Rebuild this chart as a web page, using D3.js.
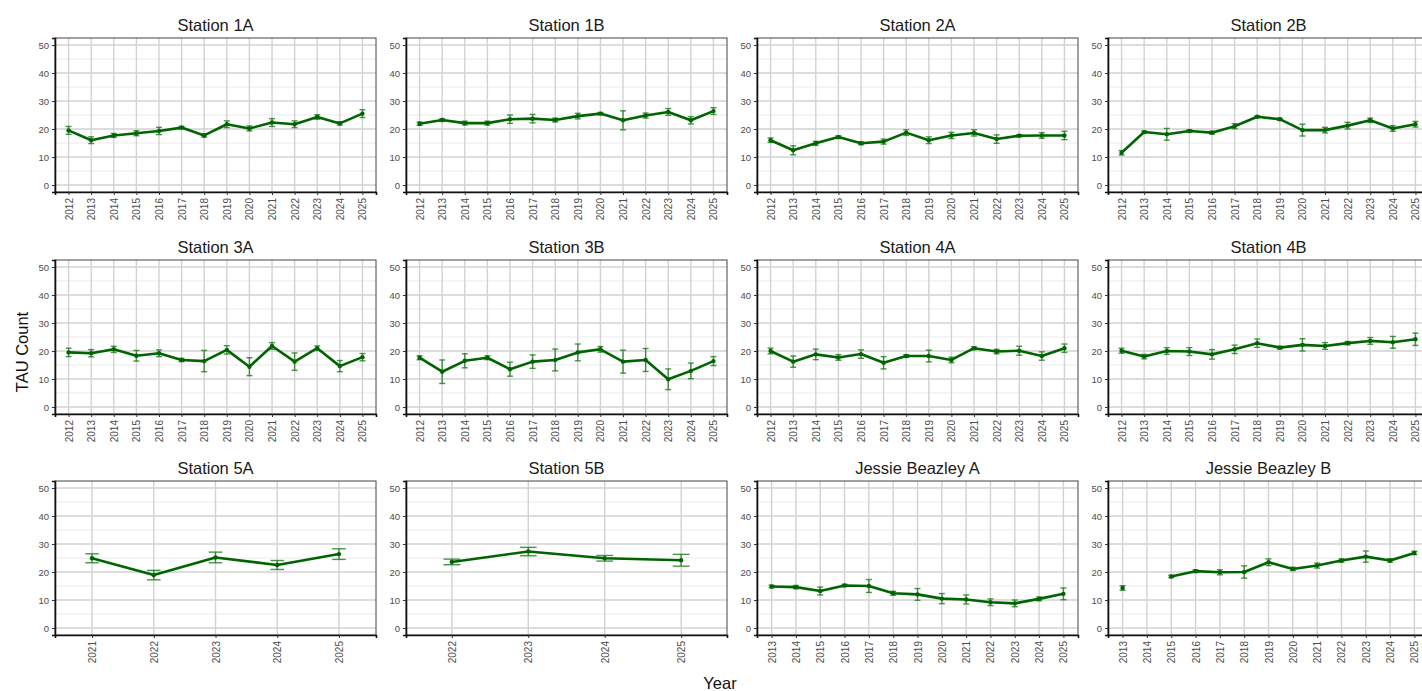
<!DOCTYPE html>
<html>
<head>
<meta charset="utf-8">
<script src="https://cdn.jsdelivr.net/npm/d3@7"></script>
<style>
	body { margin: 0; background: #fff; }
	svg text { font-family: "Liberation Sans", Arial, sans-serif; }
</style>
</head>
<body>
<svg id="chart" width="1422" height="691"></svg>
<script>

// years per station group
const yearsAll = [2012, 2013, 2014, 2015, 2016, 2017, 2018, 2019, 2020, 2021, 2022, 2023, 2024, 2025];
const years5A = [2021, 2022, 2023, 2024, 2025];
const years5B = [2022, 2023, 2024, 2025];
const yearsJB = [2013, 2014, 2015, 2016, 2017, 2018, 2019, 2020, 2021, 2022, 2023, 2024, 2025];

// mean TAU count and standard error
const mean1A = [19.5, 16.0, 17.7, 18.5, 19.3, 20.5, 17.7, 21.7, 20.2, 22.3, 21.7, 24.3, 22.0, 25.5];
const se1A   = [1.4, 1.2, 0.7, 0.9, 1.3, 0.5, 0.6, 1.2, 0.9, 1.4, 1.2, 0.8, 0.6, 1.4];
const mean1B = [21.9, 23.2, 22.1, 22.1, 23.5, 23.7, 23.2, 24.6, 25.5, 23.1, 24.8, 26.1, 23.1, 26.4];
const se1B   = [0.6, 0.5, 0.7, 0.7, 1.5, 1.5, 0.7, 1.0, 0.4, 3.4, 0.9, 1.2, 1.3, 1.2];
const mean2A = [16.0, 12.4, 14.9, 17.1, 14.9, 15.5, 18.7, 16.0, 17.7, 18.6, 16.4, 17.6, 17.7, 17.7];
const se2A   = [0.8, 1.6, 0.7, 0.5, 0.5, 0.9, 1.0, 1.2, 1.1, 1.1, 1.5, 0.4, 1.0, 1.5];
const mean2B = [11.5, 18.9, 18.1, 19.3, 18.7, 21.0, 24.4, 23.5, 19.6, 19.6, 21.2, 23.1, 20.2, 21.7];
const se2B   = [0.8, 0.4, 2.1, 0.4, 0.5, 0.9, 0.3, 0.4, 2.1, 1.0, 1.2, 0.8, 1.0, 1.0];
const mean3A = [19.5, 19.2, 20.6, 18.3, 19.2, 16.8, 16.4, 20.4, 14.4, 21.8, 16.2, 21.0, 14.6, 17.8];
const se3A   = [1.5, 1.3, 1.1, 1.9, 1.2, 0.6, 3.8, 1.5, 3.2, 1.2, 3.1, 0.8, 2.0, 1.3];
const mean3B = [17.6, 12.6, 16.5, 17.6, 13.5, 16.2, 16.8, 19.5, 20.6, 16.2, 16.8, 9.9, 12.9, 16.4];
const se3B   = [0.7, 4.2, 2.5, 0.7, 2.5, 2.4, 3.9, 3.0, 1.0, 4.1, 4.1, 3.7, 2.8, 1.6];
const mean4A = [20.0, 16.2, 18.8, 17.7, 18.9, 15.8, 18.2, 18.2, 16.8, 21.0, 19.8, 20.1, 18.2, 21.0];
const se4A   = [1.0, 2.0, 1.9, 1.0, 1.5, 2.2, 0.5, 2.1, 1.0, 0.5, 0.8, 1.6, 1.5, 1.5];
const mean4B = [20.1, 18.0, 20.0, 19.8, 18.8, 20.6, 22.8, 21.2, 22.2, 21.8, 22.8, 23.6, 23.1, 24.2];
const se4B   = [0.9, 0.8, 1.2, 1.4, 1.7, 1.5, 1.5, 0.5, 2.2, 1.2, 0.6, 1.2, 2.1, 2.2];
const mean5A = [24.9, 18.9, 25.2, 22.5, 26.4];
const se5A   = [1.6, 1.7, 1.9, 1.6, 1.9];
const mean5B = [23.6, 27.3, 24.9, 24.2];
const se5B   = [1.0, 1.5, 1.0, 2.1];
const meanJBA = [14.8, 14.6, 13.2, 15.2, 15.0, 12.4, 12.0, 10.5, 10.2, 9.2, 8.8, 10.4, 12.2];
const seJBA   = [0.5, 0.6, 1.4, 0.4, 2.3, 0.7, 2.1, 1.8, 1.6, 1.2, 1.2, 0.7, 2.1];
const meanJBB = [14.3, null, 18.4, 20.3, 19.9, 20.0, 23.5, 21.1, 22.3, 24.1, 25.5, 24.1, 26.8];
const seJBB   = [0.8, null, 0.4, 0.5, 0.9, 2.2, 1.2, 0.6, 0.9, 0.6, 2.0, 0.6, 0.6];

const stationNames = ["Station 1A", "Station 1B", "Station 2A", "Station 2B",
	"Station 3A", "Station 3B", "Station 4A", "Station 4B",
	"Station 5A", "Station 5B", "Jessie Beazley A", "Jessie Beazley B"];
const stationYears = [yearsAll, yearsAll, yearsAll, yearsAll, yearsAll, yearsAll, yearsAll, yearsAll,
	years5A, years5B, yearsJB, yearsJB];
const stationMeans = [mean1A, mean1B, mean2A, mean2B, mean3A, mean3B, mean4A, mean4B, mean5A, mean5B, meanJBA, meanJBB];
const stationSe = [se1A, se1B, se2A, se2B, se3A, se3B, se4A, se4B, se5A, se5B, seJBA, seJBB];

const yTicks = [0, 10, 20, 30, 40, 50];
const yMinor = [5, 15, 25, 35, 45];

// layout
const panelLeft = [55, 406, 757, 1108];
const panelTop = [38, 260, 481];
const panelW = 321;
const panelH = 154;
const green = "#006400";

const svg = d3.select("#chart");

stationNames.forEach(function(name, i) {

	const col = i % 4, row = Math.floor(i / 4);
	const x0 = panelLeft[col], y0 = panelTop[row];

	const x = d3.scalePoint()
		.domain(stationYears[i])
		.range([0, panelW])
		.padding(0.6);
	const y = d3.scaleLinear()
		.domain([-2.5, 52.5])
		.range([panelH, 0]);

	const data = stationYears[i].map(function(yr, k) {
		return { year: yr, m: stationMeans[i][k], se: stationSe[i][k] };
	});

	const g = svg.append("g").attr("transform", "translate(" + x0 + "," + y0 + ")");

	// title
	g.append("text")
		.attr("x", panelW / 2)
		.attr("y", -7)
		.attr("text-anchor", "middle")
		.attr("font-size", 16.5)
		.attr("fill", "#1a1a1a")
		.text(name);

	// grid
	g.selectAll(".minor").data(yMinor).enter().append("line")
		.attr("x1", 0).attr("x2", panelW)
		.attr("y1", d => y(d)).attr("y2", d => y(d))
		.attr("stroke", "#ebebeb").attr("stroke-width", 1);
	g.selectAll(".major").data(yTicks).enter().append("line")
		.attr("x1", 0).attr("x2", panelW)
		.attr("y1", d => y(d)).attr("y2", d => y(d))
		.attr("stroke", "#d2d2d2").attr("stroke-width", 1.4);
	g.selectAll(".vgrid").data(stationYears[i]).enter().append("line")
		.attr("x1", d => x(d)).attr("x2", d => x(d))
		.attr("y1", 0).attr("y2", panelH)
		.attr("stroke", "#d2d2d2").attr("stroke-width", 1.4);

	// panel border
	g.append("rect")
		.attr("width", panelW).attr("height", panelH)
		.attr("fill", "none").attr("stroke", "#444").attr("stroke-width", 1);

	// axes
	const yAxis = g.append("g")
		.call(d3.axisLeft(y).tickValues(yTicks).tickSize(3).tickPadding(3));
	const xAxis = g.append("g")
		.attr("transform", "translate(0," + panelH + ")")
		.call(d3.axisBottom(x).tickSize(3).tickPadding(3));

	yAxis.select(".domain").attr("stroke", "#111").attr("stroke-width", 1.6);
	xAxis.select(".domain").attr("stroke", "#111").attr("stroke-width", 1.6);
	yAxis.selectAll(".tick line").attr("stroke", "#333");
	xAxis.selectAll(".tick line").attr("stroke", "#333");
	yAxis.selectAll("text").attr("font-size", 9.5).attr("fill", "#4d4d4d")
		.attr("font-family", "Liberation Sans, Arial, sans-serif");
	xAxis.selectAll("text")
		.attr("font-size", 10).attr("fill", "#4d4d4d")
		.attr("font-family", "Liberation Sans, Arial, sans-serif")
		.attr("transform", "rotate(-90)")
		.attr("text-anchor", "end")
		.attr("x", -6).attr("y", 0).attr("dy", "0.35em");

	const valid = data.filter(d => d.m != null);

	// error bars
	const cap = Math.max(6, x.step() * 0.22) / 2;
	const eb = g.selectAll(".eb").data(valid).enter().append("g")
		.attr("stroke", "#1d7a1d").attr("stroke-opacity", 0.8).attr("stroke-width", 1.4);
	eb.append("line")
		.attr("x1", d => x(d.year)).attr("x2", d => x(d.year))
		.attr("y1", d => y(d.m - d.se)).attr("y2", d => y(d.m + d.se));
	eb.append("line")
		.attr("x1", d => x(d.year) - cap).attr("x2", d => x(d.year) + cap)
		.attr("y1", d => y(d.m - d.se)).attr("y2", d => y(d.m - d.se));
	eb.append("line")
		.attr("x1", d => x(d.year) - cap).attr("x2", d => x(d.year) + cap)
		.attr("y1", d => y(d.m + d.se)).attr("y2", d => y(d.m + d.se));

	// line
	g.append("path")
		.datum(data)
		.attr("fill", "none")
		.attr("stroke", green)
		.attr("stroke-width", 2.6)
		.attr("stroke-linejoin", "round")
		.attr("d", d3.line()
			.defined(d => d.m != null)
			.x(d => x(d.year))
			.y(d => y(d.m)));

	// points
	g.selectAll(".pt").data(valid).enter().append("circle")
		.attr("cx", d => x(d.year))
		.attr("cy", d => y(d.m))
		.attr("r", 2.2)
		.attr("fill", green);
});

// axis titles
svg.append("text")
	.attr("transform", "translate(28,352) rotate(-90)")
	.attr("text-anchor", "middle")
	.attr("font-size", 16.5)
	.attr("fill", "#111")
	.text("TAU Count");

svg.append("text")
	.attr("x", 720)
	.attr("y", 689)
	.attr("text-anchor", "middle")
	.attr("font-size", 16.5)
	.attr("fill", "#111")
	.text("Year");

</script>
</body>
</html>
